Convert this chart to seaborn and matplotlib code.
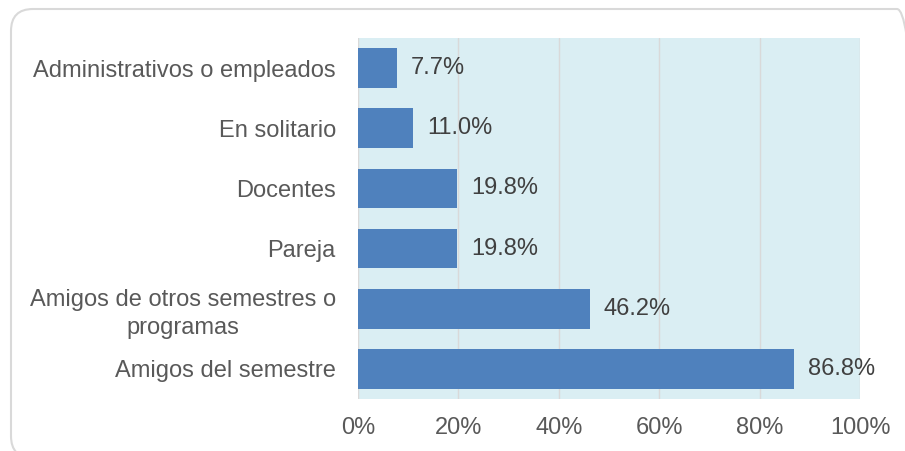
import matplotlib
matplotlib.use("Agg")
import matplotlib.pyplot as plt
from matplotlib.patches import FancyBboxPatch
import seaborn as sns
import pandas as pd

categories = [
    "Administrativos o empleados",
    "En solitario",
    "Docentes",
    "Pareja",
    "Amigos de otros semestres o\nprogramas",
    "Amigos del semestre",
]
values = [7.7, 11.0, 19.8, 19.8, 46.2, 86.8]
tick_values = [0, 20, 40, 60, 80, 100]
tick_labels = ["0%", "20%", "40%", "60%", "80%", "100%"]

df = pd.DataFrame({"grupo": categories, "pct": values})

sns.set_theme(style="white")
plt.rcParams["font.family"] = ["Liberation Sans", "DejaVu Sans"]

W, H = 905, 451
FS = 17
fig = plt.figure(figsize=(W / 100, H / 100), dpi=100)
ax = fig.add_axes([358 / W, 1 - 399 / H, (860 - 358) / W, (399 - 38) / H])

# Rounded outer frame (inch coordinates)
frame = FancyBboxPatch((0.11, -0.07), 9.08, 4.49,
                       boxstyle="round,pad=0,rounding_size=0.22",
                       transform=fig.dpi_scale_trans, facecolor="none",
                       edgecolor="#d9d9d9", linewidth=1.5, clip_on=False)
fig.patches.append(frame)

ax.set_facecolor("#DAEEF3")
sns.barplot(data=df, x="pct", y="grupo", orient="h", color="#4F81BD",
            saturation=1, width=0.66, linewidth=0, edgecolor="none",
            ax=ax, zorder=3)

ax.set_xlim(0, 100)
ax.set_xticks(tick_values)
ax.set_xticklabels(tick_labels, fontsize=FS, color="#595959")
ax.xaxis.grid(True, color="#d9d9d9", linewidth=1.0, zorder=0)
ax.set_axisbelow(True)
ax.tick_params(axis="x", length=0, pad=13)
ax.tick_params(axis="y", length=0, pad=16)
for lab in ax.get_yticklabels():
    lab.set_fontsize(FS)
    lab.set_color("#595959")
    lab.set_multialignment("center")
    lab.set_linespacing(1.35)
ax.set_xlabel("")
ax.set_ylabel("")
for s in ax.spines.values():
    s.set_visible(False)

for i, v in enumerate(values):
    ax.text(v + 2.8, i, f"{v:.1f}%", va="center", ha="left",
            fontsize=FS, color="#404040", zorder=4)

fig.savefig("out.png", dpi=100)
